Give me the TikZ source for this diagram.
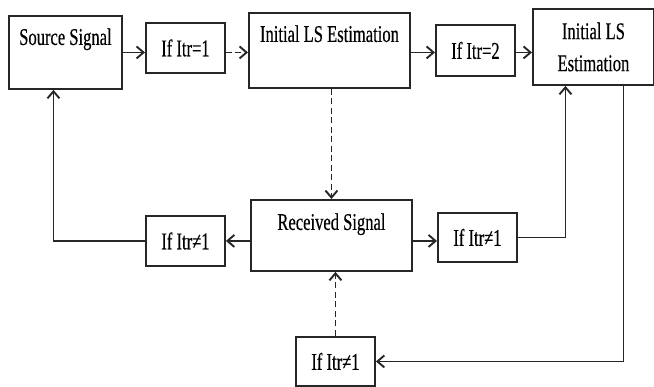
\documentclass[tikz,border=0pt]{standalone}
\usepackage{fontspec}
\setmainfont{Liberation Serif}[FakeStretch=0.69,FakeBold=0.4]
\usetikzlibrary{arrows.meta}
\colorlet{boxline}{black!85}
\colorlet{flowline}{black!85}

\begin{document}
\begin{tikzpicture}[x=1pt,y=-1pt,
        blk/.style={draw=boxline, line width=1.9pt, inner sep=0pt, anchor=north west, align=center, font=\fontsize{24}{32}\selectfont},
        ifbox/.style={blk, minimum width=79pt},
        flow/.style={draw=flowline, line width=1.6pt, -{Straight Barb[length=7pt,width=12pt,line width=1.9pt]}},
        dflow/.style={flow, dash pattern=on 6pt off 3.5pt}]
        \useasboundingbox (0,0) rectangle (654,387);
        \node[blk, minimum width=113pt, text height=29pt, text depth=44pt] (src) at (8,15) {Source Signal};
        \node[ifbox, minimum height=50pt] (it1) at (145,22) {If Itr=1};
        \node[blk, minimum width=161pt, text height=29pt, text depth=46pt] (est1) at (248,12) {Initial LS Estimation};
        \node[ifbox, minimum height=51pt] (it2) at (435,24) {If Itr=2};
        \node[blk, minimum width=121pt, minimum height=76pt] (est2) at (532,8) {Initial LS\\Estimation};
        \node[blk, minimum width=161pt, text height=30pt, text depth=41pt] (rcv) at (250,199) {Received Signal};
        \foreach \nm/\xx/\yy/\hh in {neA/145/215/50, neB/437/212/49, neC/295/336/49}{
            \node[ifbox, minimum height=\hh pt] (\nm) at (\xx,\yy) {If Itr≠1};
        }
        \draw[flow] (src.east) -- (src.east -| it1.west);
        \draw[dflow] (src.east -| it1.east) -- (src.east -| est1.west);
        \draw[flow] (src.east -| est1.east) -- (src.east -| it2.west);
        \draw[flow] (src.east -| it2.east) -- (src.east -| est2.west);
        \draw[dflow] (rcv.north |- est1.south) -- (rcv.north);
        \draw[dflow] (neC.north) -- (neC.north |- rcv.south);
        \draw[flow] (neA.east -| rcv.west) -- (neA.east);
        \draw[flow] (neA.west) -| ([xshift=-12pt]src.south);
        \draw[flow] (neA.east -| rcv.east) -- (neA.east -| neB.west);
        \draw[flow] (neB.east) -| ([xshift=-28pt]est2.south);
        \draw[flow] ([xshift=30pt]est2.south) |- (neC.east);
    \end{tikzpicture}
\end{document}
